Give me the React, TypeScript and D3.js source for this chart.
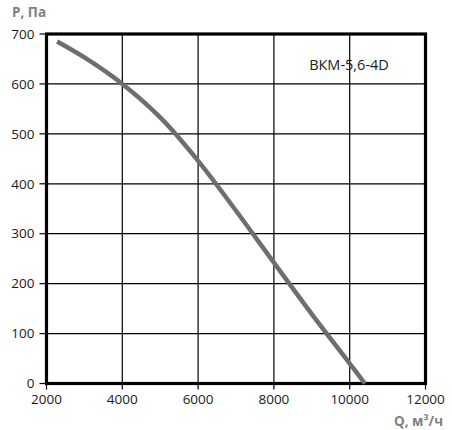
import React from "react";
import * as d3 from "d3";

const qValues = [2280, 3000, 4000, 5000, 6000, 7000, 8000, 9000, 10000, 10400];
const pValues = [685, 653, 600, 533, 446, 346, 242, 139, 40, 0];
const xTicks = [2000, 4000, 6000, 8000, 10000, 12000];
const yTicks = [0, 100, 200, 300, 400, 500, 600, 700];
const modelName = "ВКМ-5,6-4D";
const xTitle = "Q, м³/ч";
const yTitle = "P, Па";

const W = 452;
const H = 430;
const FONT = "'Open Sans', 'DejaVu Sans', sans-serif";

export default function App() {
  const x = d3.scaleLinear().domain([2000, 12000]).range([46.5, 425.5]);
  const y = d3.scaleLinear().domain([0, 700]).range([383.5, 34]);
  const pts: [number, number][] = qValues.map((q, i) => [q, pValues[i]]);
  const line = d3
    .line<[number, number]>()
    .x((d) => x(d[0]))
    .y((d) => y(d[1]))
    .curve(d3.curveCatmullRom.alpha(0.5));

  const [x0, x1] = x.range();
  const [y0, y1] = y.range();

  return (
    <svg
      width={W}
      height={H}
      style={{ position: "absolute", left: 0, top: 0, background: "#fff" }}
      fontFamily={FONT}
    >
      <rect x={0} y={0} width={W} height={H} fill="#fff" />
      {xTicks.map((t) => (
        <line key={"gx" + t} x1={x(t)} x2={x(t)} y1={y1} y2={y0} stroke="#000" strokeWidth={1.2} />
      ))}
      {yTicks.map((t) => (
        <line key={"gy" + t} x1={x0} x2={x1} y1={y(t)} y2={y(t)} stroke="#000" strokeWidth={1.2} />
      ))}
      {yTicks.map((t) => (
        <line key={"ty" + t} x1={x0 - 7} x2={x0} y1={y(t)} y2={y(t)} stroke="#000" strokeWidth={1.2} />
      ))}
      {xTicks.map((t) => (
        <line key={"tx" + t} x1={x(t)} x2={x(t)} y1={y0} y2={y0 + 6} stroke="#000" strokeWidth={1.2} />
      ))}
      <rect x={x0} y={y1} width={x1 - x0} height={y0 - y1} fill="none" stroke="#000" strokeWidth={3.2} />
      <path d={line(pts) || ""} fill="none" stroke="#6e6e6e" strokeWidth={4.5} />
      {yTicks.map((t) => (
        <text key={"ly" + t} x={x0 - 12} y={y(t)} dy="0.35em" textAnchor="end" fontSize={13.5} fill="#1a1a1a">
          {t}
        </text>
      ))}
      {xTicks.map((t) => (
        <text key={"lx" + t} x={x(t)} y={404} textAnchor="middle" fontSize={13.5} fill="#1a1a1a">
          {t}
        </text>
      ))}
      <text x={12} y={16.5} fontSize={13.5} fontWeight="bold" fill="#808080">
        {yTitle}
      </text>
      <text x={443} y={425.5} textAnchor="end" fontSize={13.5} fontWeight="bold" fill="#808080">
        {xTitle}
      </text>
      <text x={349} y={70} textAnchor="middle" fontSize={14.5} fill="#1a1a1a">
        {modelName}
      </text>
    </svg>
  );
}
